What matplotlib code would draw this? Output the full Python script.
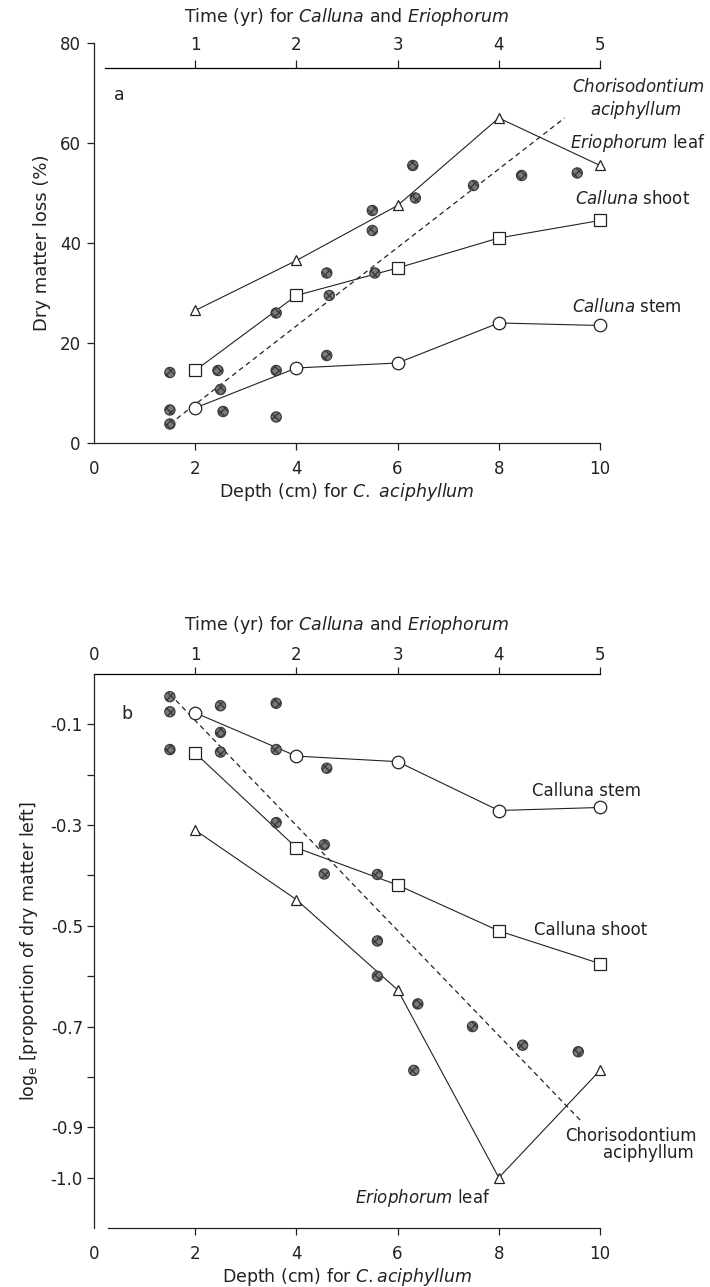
import numpy as np
import matplotlib.pyplot as plt

plt.rcParams['font.family'] = ['DejaVu Sans']
plt.rcParams['mathtext.fontset'] = 'dejavusans'
ink = '#222222'

# time (yr) for Calluna and Eriophorum; plotted on depth scale (2 cm per yr)
years = [1, 2, 3, 4, 5]

# panel a: dry matter loss (%)
stem_a = [7, 15, 16, 24, 23.5]
shoot_a = [14.5, 29.5, 35, 41, 44.5]
leaf_a = [26.5, 36.5, 47.5, 65, 55.5]
chor_depth_a = [1.5, 1.5, 1.5, 2.45, 2.5, 2.55, 3.6, 3.6, 3.6, 4.6, 4.65, 4.6,
                5.55, 5.5, 5.5, 6.3, 6.35, 7.5, 8.45, 9.55]
chor_loss_a = [14.1, 6.6, 3.8, 14.5, 10.7, 6.3, 26, 14.5, 5.2, 34, 29.5, 17.5,
               34, 46.5, 42.5, 55.5, 49, 51.5, 53.5, 54]
fit_depth_a = [1.5, 9.3]
fit_loss_a = [3.8, 65]

# panel b: loge proportion of dry matter left
stem_b = [-0.077, -0.163, -0.174, -0.271, -0.265]
shoot_b = [-0.157, -0.345, -0.419, -0.51, -0.575]
leaf_b = [-0.31, -0.448, -0.627, -1.0, -0.787]
chor_depth_b = [1.5, 1.5, 1.5, 2.5, 2.5, 2.5, 3.6, 3.6, 3.6, 4.6, 4.55, 4.55,
                5.6, 5.6, 5.6, 6.32, 6.4, 7.48, 8.47, 9.57]
chor_log_b = [-0.045, -0.075, -0.150, -0.063, -0.116, -0.155, -0.058, -0.150, -0.295,
              -0.187, -0.339, -0.397, -0.398, -0.53, -0.60, -0.787, -0.655, -0.70,
              -0.737, -0.75]
fit_depth_b = [1.5, 9.65]
fit_log_b = [-0.04, -0.89]

b_yticks = [-0.1, -0.2, -0.3, -0.4, -0.5, -0.6, -0.7, -0.8, -0.9, -1.0]
b_ylabels = ['-0.1', '', '-0.3', '', '-0.5', '', '-0.7', '', '-0.9', '-1.0']


def yr_to_cm(t):
    return np.asarray(t) * 2.0


def cm_to_yr(d):
    return np.asarray(d) / 2.0


def draw_series(ax, stem, shoot, leaf, cx, cy, fx, fy):
    x = yr_to_cm(years)
    kw = dict(color=ink, lw=0.8, mfc='white', mec=ink, mew=0.9, zorder=3, clip_on=False)
    ax.plot(x, stem, marker='o', ms=9, **kw)
    ax.plot(x, shoot, marker='s', ms=8.5, **kw)
    ax.plot(x, leaf, marker='^', ms=7.5, **kw)
    ax.plot(fx, fy, ls=(0, (4, 3)), color=ink, lw=0.9, zorder=2)
    ax.scatter(cx, cy, s=55, c='#7a7a7a', edgecolors='#3a3a3a', linewidths=0.8,
               hatch='xxxx', zorder=4)


def style_axes(ax, ypad):
    ax.spines['right'].set_visible(False)
    ax.spines['top'].set_visible(False)
    for s in ax.spines.values():
        s.set_linewidth(0.9)
        s.set_color(ink)
    ax.tick_params(direction='out', length=5, width=0.9, colors=ink, labelsize=12)
    ax.tick_params(axis='x', pad=7.5)
    ax.tick_params(axis='y', pad=ypad)
    ax.set_xlim(0, 10)
    ax.set_xticks([0, 2, 4, 6, 8, 10])
    ax.xaxis.get_major_ticks()[0].tick1line.set_visible(False)


fig = plt.figure(figsize=(7.1, 12.87), dpi=100)

# ---------- panel a ----------
ax_a = fig.add_axes([0.1324, 0.6558, 0.7127, 0.3108])
style_axes(ax_a, 4.5)
draw_series(ax_a, stem_a, shoot_a, leaf_a, chor_depth_a, chor_loss_a, fit_depth_a, fit_loss_a)
ax_a.set_ylim(0, 80)
ax_a.set_yticks([0, 20, 40, 60, 80])
ax_a.set_ylabel('Dry matter loss (%)', fontsize=13, color=ink, labelpad=6)
ax_a.set_xlabel(r'Depth (cm) for $\mathit{C.}$ $\mathit{aciphyllum}$', fontsize=12.5, color=ink, labelpad=2)

sec_a = ax_a.secondary_xaxis(75, functions=(cm_to_yr, yr_to_cm), transform=ax_a.transData)
sec_a.set_xticks(years)
sec_a.spines['bottom'].set_visible(False)
sec_a.spines['top'].set_bounds(0.11, 5)
sec_a.spines['top'].set_linewidth(0.9)
sec_a.tick_params(direction='out', length=6, width=0.9, colors=ink, labelsize=12, pad=4)
sec_a.set_xlabel(r'Time (yr) for $\mathit{Calluna}$ and $\mathit{Eriophorum}$', fontsize=12.5,
                 color=ink, labelpad=10)

ax_a.text(0.4, 69.5, 'a', fontsize=12.5, color=ink, va='center')
ax_a.text(9.45, 71.2, r'$\mathit{Chorisodontium}$', fontsize=12, color=ink, va='center', clip_on=False)
ax_a.text(9.8, 66.5, r'$\mathit{aciphyllum}$', fontsize=12, color=ink, va='center', clip_on=False)
ax_a.text(9.4, 60, r'$\mathit{Eriophorum}$ leaf', fontsize=12, color=ink, va='center', clip_on=False)
ax_a.text(9.5, 48.8, r'$\mathit{Calluna}$ shoot', fontsize=12, color=ink, va='center', clip_on=False)
ax_a.text(9.45, 27.1, r'$\mathit{Calluna}$ stem', fontsize=12, color=ink, va='center', clip_on=False)

# ---------- panel b ----------
ax_b = fig.add_axes([0.1324, 0.0458, 0.7127, 0.4305])
style_axes(ax_b, 3)
draw_series(ax_b, stem_b, shoot_b, leaf_b, chor_depth_b, chor_log_b, fit_depth_b, fit_log_b)
ax_b.set_ylim(-1.1, 0.0)
ax_b.set_yticks(b_yticks)
ax_b.set_yticklabels(b_ylabels)
ax_b.spines['bottom'].set_bounds(0.28, 10)
ax_b.set_ylabel(r'log$_\mathrm{e}$ [proportion of dry matter left]', fontsize=12.5, color=ink, labelpad=8)
ax_b.set_xlabel(r'Depth (cm) for $\mathit{C.aciphyllum}$', fontsize=12.5, color=ink, labelpad=2)

sec_b = ax_b.secondary_xaxis('top', functions=(cm_to_yr, yr_to_cm))
sec_b.set_xticks([0] + years)
sec_b.spines['bottom'].set_visible(False)
sec_b.spines['top'].set_linewidth(0.9)
sec_b.tick_params(direction='out', length=5, width=0.9, colors=ink, labelsize=12, pad=2)
sec_b.xaxis.get_major_ticks()[0].tick2line.set_visible(False)
sec_b.set_xlabel(r'Time (yr) for $\mathit{Calluna}$ and $\mathit{Eriophorum}$', fontsize=12.5,
                 color=ink, labelpad=12)

ax_b.text(0.54, -0.079, 'b', fontsize=12.5, color=ink, va='center')
ax_b.text(8.65, -0.232, 'Calluna stem', fontsize=12, color=ink, va='center', clip_on=False)
ax_b.text(8.69, -0.509, 'Calluna shoot', fontsize=12, color=ink, va='center', clip_on=False)
ax_b.text(11.9, -0.918, 'Chorisodontium', fontsize=12, color=ink, va='center', ha='right', clip_on=False)
ax_b.text(11.85, -0.951, 'aciphyllum', fontsize=12, color=ink, va='center', ha='right', clip_on=False)
ax_b.text(6.5, -1.041, r'$\mathit{Eriophorum}$ leaf', fontsize=12, color=ink, va='center', ha='center')

fig.savefig('out.png', dpi=100, facecolor='white')
